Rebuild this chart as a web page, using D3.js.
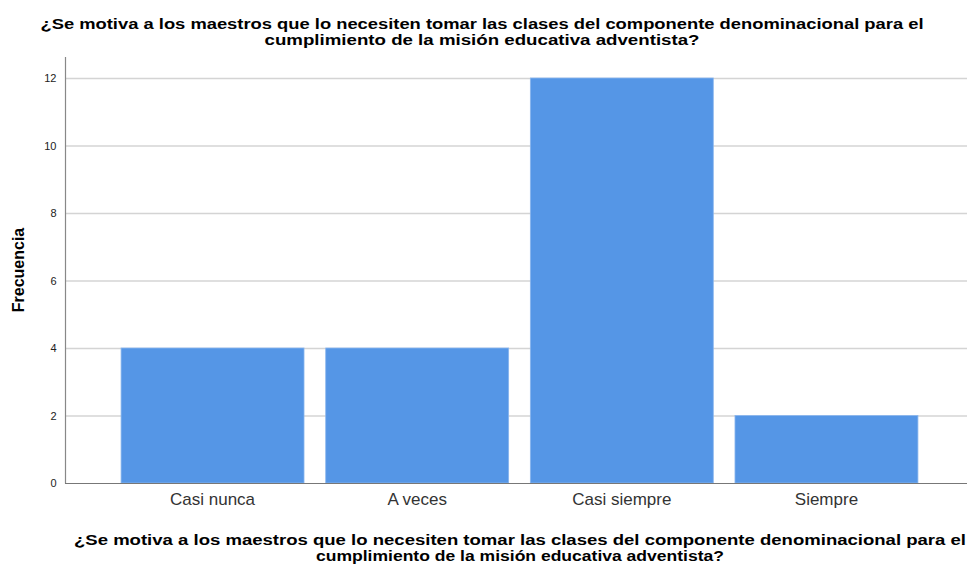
<!DOCTYPE html>
<html>
<head>
<meta charset="utf-8">
<script src="https://cdn.jsdelivr.net/npm/d3@7"></script>
<style>
  body { margin: 0; background: #fff; }
  svg { font-family: "Liberation Sans", Arial, sans-serif; }
</style>
</head>
<body>
<div id="chart"></div>
<script>
// data
categories = ["Casi nunca", "A veces", "Casi siempre", "Siempre"];
counts = [4, 4, 12, 2];
yTicks = [0, 2, 4, 6, 8, 10, 12];
titleLines = ["¿Se motiva a los maestros que lo necesiten tomar las clases del componente denominacional para el",
              "cumplimiento de la misión educativa adventista?"];
yLabel = "Frecuencia";

width = 967;
height = 567;
margin = ({top: 57, right: -7, bottom: 84, left: 65});

function addTitle(svg, cx, y0, size, lengths) {
  svg.append("g")
    .selectAll("text")
    .data(titleLines)
    .join("text")
      .attr("x", cx)
      .attr("y", (d, i) => y0 + i * 16)
      .attr("text-anchor", "middle")
      .attr("font-size", size)
      .attr("font-weight", "bold")
      .attr("textLength", (d, i) => lengths[i])
      .attr("lengthAdjust", "spacingAndGlyphs")
      .text(d => d);
}

function drawChart() {
  const data = categories.map((c, i) => ({cat: c, n: counts[i]}));

  const svg = d3.select("#chart")
    .append("svg")
    .attr("width", width)
    .attr("height", height);

  const x = d3.scaleBand()
    .domain(categories)
    .range([margin.left, width - margin.right])
    .paddingInner(0.106)
    .paddingOuter(0.274);

  const y = d3.scaleLinear()
    .domain([0, 12])
    .range([483, 78]);

  // gridlines
  svg.append("g")
    .selectAll("line")
    .data(yTicks.filter(d => d > 0))
    .join("line")
      .attr("x1", margin.left)
      .attr("x2", width)
      .attr("y1", d => y(d) + 0.5)
      .attr("y2", d => y(d) + 0.5)
      .attr("stroke", "#d4d4d4")
      .attr("stroke-width", 1.3);

  // bars
  svg.append("g")
    .selectAll("rect")
    .data(data)
    .join("rect")
      .attr("x", d => x(d.cat))
      .attr("y", d => y(d.n))
      .attr("width", x.bandwidth())
      .attr("height", d => y(0) - y(d.n))
      .attr("fill", "#5596e6")
      .attr("stroke", "#8ab6ee")
      .attr("stroke-width", 0.8);

  // y axis
  const yAxis = d3.axisLeft(y).tickValues(yTicks).tickSize(0).tickPadding(9);
  const yg = svg.append("g")
    .attr("transform", `translate(${margin.left + 0.5},0)`)
    .call(yAxis);
  yg.select(".domain").remove();
  yg.selectAll("text")
    .attr("font-size", 11)
    .attr("fill", "#222")
    .attr("font-family", "Liberation Sans, Arial, sans-serif");
  svg.append("line")
    .attr("x1", margin.left + 0.5).attr("x2", margin.left + 0.5)
    .attr("y1", margin.top).attr("y2", y(0) + 0.5)
    .attr("stroke", "#888").attr("stroke-width", 1.2);

  // x axis
  const xAxis = d3.axisBottom(x).tickSize(0).tickPadding(9);
  const xg = svg.append("g")
    .attr("transform", `translate(0,${y(0) + 0.5})`)
    .call(xAxis);
  xg.select(".domain").remove();
  xg.selectAll("text")
    .attr("font-size", 17)
    .attr("fill", "#333")
    .attr("font-family", "Liberation Sans, Arial, sans-serif");
  svg.append("line")
    .attr("x1", margin.left).attr("x2", width)
    .attr("y1", y(0) + 0.5).attr("y2", y(0) + 0.5)
    .attr("stroke", "#777").attr("stroke-width", 1.2);

  // titles
  addTitle(svg, 482, 29, 14.5, [883, 435]);
  addTitle(svg, 520, 545, 14.5, [892, 408]);

  // y axis title
  svg.append("text")
    .attr("transform", `translate(24,${(margin.top + y(0)) / 2}) rotate(-90)`)
    .attr("text-anchor", "middle")
    .attr("font-size", 16)
    .attr("font-weight", "bold")
    .text(yLabel);
}

window.onload = drawChart;
</script>
</body>
</html>
